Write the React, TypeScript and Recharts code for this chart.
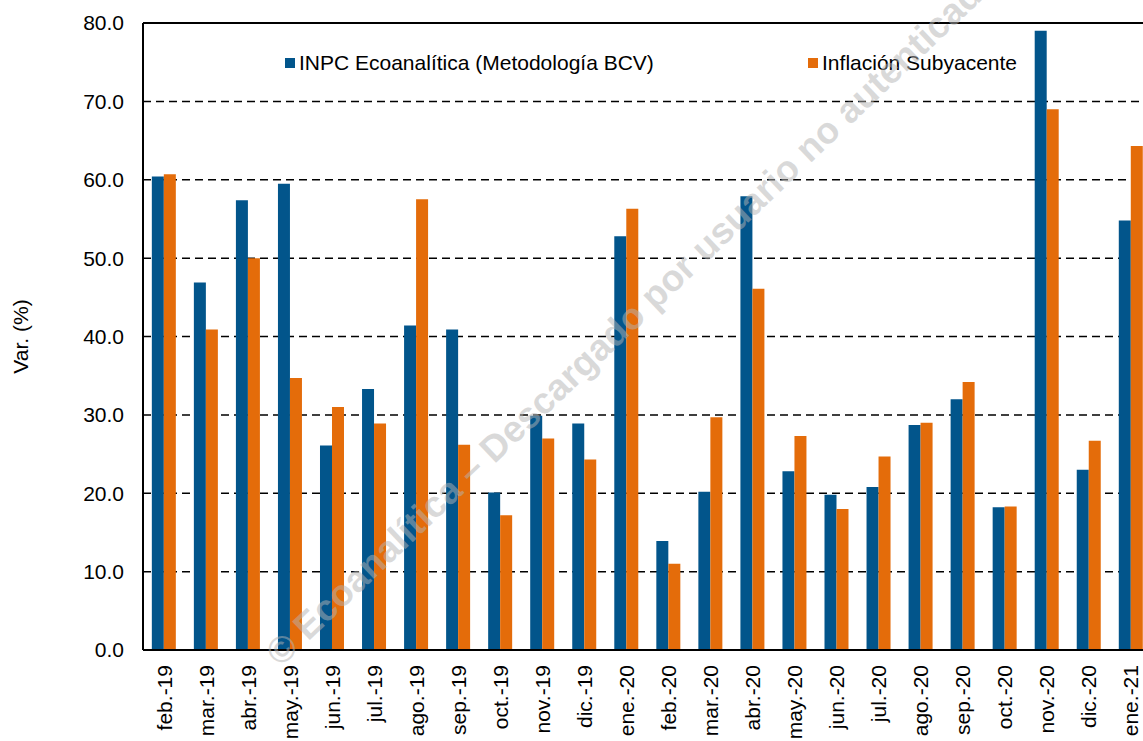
import { BarChart, Bar, XAxis, YAxis, CartesianGrid, ReferenceLine } from 'recharts'

const months = [
  'feb.-19', 'mar.-19', 'abr.-19', 'may.-19', 'jun.-19', 'jul.-19', 'ago.-19', 'sep.-19',
  'oct.-19', 'nov.-19', 'dic.-19', 'ene.-20', 'feb.-20', 'mar.-20', 'abr.-20', 'may.-20',
  'jun.-20', 'jul.-20', 'ago.-20', 'sep.-20', 'oct.-20', 'nov.-20', 'dic.-20', 'ene.-21',
]

const inpc = [
  60.4, 46.9, 57.4, 59.5, 26.1, 33.3, 41.4, 40.9, 20.1, 29.9, 28.9, 52.8,
  13.9, 20.2, 57.9, 22.8, 19.8, 20.8, 28.7, 32.0, 18.2, 79.0, 23.0, 54.8,
]

const subyacente = [
  60.7, 40.9, 50.0, 34.7, 31.0, 28.9, 57.5, 26.2, 17.2, 27.0, 24.3, 56.3,
  11.0, 29.7, 46.1, 27.3, 18.0, 24.7, 29.0, 34.2, 18.3, 69.0, 26.7, 64.3,
]

const yTicks = [0, 10, 20, 30, 40, 50, 60, 70, 80]

const data = months.map((m, i) => ({ month: m, inpc: inpc[i], sub: subyacente[i] }))

const FONT = '"Liberation Sans", Arial, sans-serif'
const BLUE = '#02558b'
const ORANGE = '#e46c0a'

const legendItems = [
  { label: 'INPC Ecoanalítica (Metodología BCV)', color: BLUE },
  { label: 'Inflación Subyacente', color: ORANGE },
]

function MonthTick({ x, y, payload }: any) {
  return (
    <text
      x={x}
      y={y}
      transform={`rotate(-90 ${x} ${y})`}
      textAnchor="end"
      dominantBaseline="central"
      fontSize={21}
      fill="#000"
      fontFamily={FONT}
    >
      {payload.value}
    </text>
  )
}

function YLabel({ viewBox }: any) {
  const x = viewBox.x + 20
  const y = viewBox.y + viewBox.height / 2
  return (
    <text
      x={x}
      y={y}
      transform={`rotate(-90 ${x} ${y})`}
      textAnchor="middle"
      dominantBaseline="central"
      fontSize={21}
      fill="#000"
      fontFamily={FONT}
    >
      Var. (%)
    </text>
  )
}

export default function App() {
  return (
    <div style={{ position: 'absolute', left: 0, top: 0, width: 1143, height: 741, overflow: 'hidden', background: '#fff' }}>
      <BarChart
        width={1157}
        height={741}
        data={data}
        margin={{ top: 23, right: 5, left: 0, bottom: 0 }}
        barCategoryGap="21%"
        barGap={0}
      >
        <CartesianGrid vertical={false} stroke="#000" strokeWidth={1.5} strokeDasharray="8 5" />
        <XAxis
          dataKey="month"
          interval={0}
          height={91}
          tickLine={false}
          tickSize={0}
          tickMargin={15}
          axisLine={{ stroke: '#000', strokeWidth: 2 }}
          tick={<MonthTick />}
        />
        <YAxis
          width={143}
          domain={[0, 80]}
          ticks={yTicks}
          tickFormatter={(v: number) => v.toFixed(1)}
          tickLine={false}
          tickSize={0}
          tickMargin={19}
          axisLine={{ stroke: '#000', strokeWidth: 2 }}
          tick={{ fontSize: 21, fill: '#000', fontFamily: FONT }}
          label={<YLabel />}
        />
        <ReferenceLine y={80} stroke="#000" strokeWidth={2} />
        <Bar dataKey="inpc" name="INPC Ecoanalítica (Metodología BCV)" fill={BLUE} isAnimationActive={false} />
        <Bar dataKey="sub" name="Inflación Subyacente" fill={ORANGE} isAnimationActive={false} />
      </BarChart>

      {/* legend sits inside the plot, so keep it out of the chart's layout */}
      <div
        style={{
          position: 'absolute',
          left: 285,
          top: 50,
          width: 732,
          display: 'flex',
          justifyContent: 'space-between',
          fontFamily: FONT,
          fontSize: 21,
          color: '#000',
          lineHeight: '26px',
        }}
      >
        {legendItems.map((it) => (
          <div key={it.label} style={{ display: 'flex', alignItems: 'center' }}>
            <span style={{ width: 10, height: 10, background: it.color, marginRight: 4, display: 'inline-block' }} />
            {it.label}
          </div>
        ))}
      </div>

      <svg width={1143} height={741} style={{ position: 'absolute', left: 0, top: 0, pointerEvents: 'none' }}>
        <text
          x={632}
          y={316}
          transform="rotate(-43.6 632 316)"
          textAnchor="middle"
          dominantBaseline="central"
          fontSize={37}
          fontWeight="bold"
          fontFamily={FONT}
          fill="#b4b4b4"
          fillOpacity={0.5}
        >
          © Ecoanalítica – Descargado por usuario no autenticado
        </text>
      </svg>
    </div>
  )
}
